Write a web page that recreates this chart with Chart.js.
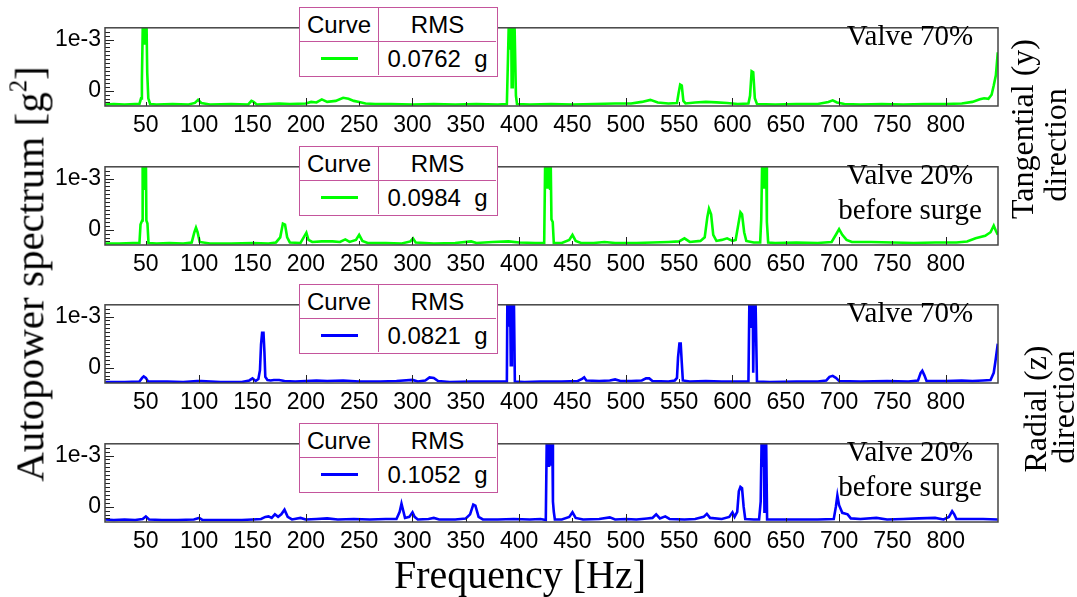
<!DOCTYPE html>
<html>
<head>
<meta charset="utf-8">
<script src="https://cdn.jsdelivr.net/npm/chart.js@4.4.1/dist/chart.umd.min.js"></script>
<style>
  html, body { margin:0; padding:0; background:#fff; }
  body { width:1077px; height:597px; position:relative; overflow:hidden; }
  canvas.panel { position:absolute; left:0; }
  .leg { position:absolute; left:299px; width:199px; height:70px; box-sizing:border-box;
         border:1.5px solid #c4559c; background:#fff; z-index:5;
         display:grid; grid-template-columns:79px 117px; grid-template-rows:34px 33px;
         font-family:"Liberation Sans", Arial, sans-serif; font-size:24px; color:#000; }
  .leg div { display:flex; align-items:center; justify-content:center; white-space:pre; }
  .leg .c1 { border-right:1.5px solid #c4559c; }
  .leg .r1 { border-bottom:1.5px solid #c4559c; }
  .leg .sw { width:37px; height:3.5px; }
  .note { position:absolute; z-index:4; font-family:"Liberation Serif","Times New Roman",serif;
          font-size:29px; line-height:35px; text-align:center; color:#000; transform:translate(-50%,0); white-space:nowrap; }
  .rot { position:absolute; z-index:4; font-family:"Liberation Serif","Times New Roman",serif; color:#000;
         text-align:center; white-space:nowrap; transform:translate(-50%,-50%) rotate(-90deg); }
  .xt { position:absolute; font-family:"Liberation Serif","Times New Roman",serif; font-size:40px; color:#000;
        transform:translate(-50%,-50%); white-space:nowrap; }
</style>
</head>
<body>
<script>
// ---------- DATA (amplitudes in units of 1e-3 g^2) ----------
const xTickValues = [50,100,150,200,250,300,350,400,450,500,550,600,650,700,750,800];
const yTickValues = [0, 1];
const yTickLabels = ['0', '1e-3'];
const rmsValues = ['0.0762', '0.0984', '0.0821', '0.1052'];
const panelNotes = [['Valve 70%'], ['Valve 20%', 'before surge'], ['Valve 70%'], ['Valve 20%', 'before surge']];
const seriesColors = ['#00ff00', '#00ff00', '#0000ff', '#0000ff'];

const freqTanV70 = [12,20,30,40,44,45.5,46.3,47.3,47.8,48.3,48.8,49.3,49.8,50.5,51.3,52.3,54,60,75,90,96,99,102,110,130,146,149,151,154,165,175,185,200,205,210,215,220,228,235,240,245,250,256,265,280,300,320,340,360,380,388.5,389.5,390.5,391,391.5,392,392.5,393,394,394.5,395,395.5,396,397,398,410,430,450,470,490,505,515,523,530,540,548,549.5,551,552.5,554,556,565,575,585,595,605,615,616.5,618,619.5,621,623,640,660,680,690,694,698,705,720,740,760,780,800,815,825,832,836,840,843,845,847,848.8];
const ampTanV70  = [-0.27,-0.26,-0.27,-0.26,-0.26,-0.15,0.22,1.5,0.9,1.5,0.9,1.5,0.9,1.5,0.35,-0.15,-0.26,-0.27,-0.26,-0.27,-0.24,-0.18,-0.24,-0.27,-0.26,-0.27,-0.2,-0.22,-0.27,-0.26,-0.25,-0.26,-0.25,-0.22,-0.23,-0.17,-0.22,-0.2,-0.14,-0.16,-0.2,-0.22,-0.25,-0.26,-0.26,-0.27,-0.26,-0.27,-0.26,-0.27,-0.26,0.6,1.5,0.8,1.5,0.8,1.5,0.07,0.07,1.5,0.8,1.5,1.5,-0.1,-0.26,-0.27,-0.26,-0.27,-0.26,-0.25,-0.25,-0.22,-0.18,-0.23,-0.25,-0.24,-0.05,0.12,0.1,-0.2,-0.25,-0.23,-0.22,-0.23,-0.24,-0.26,-0.25,-0.1,0.38,0.36,-0.15,-0.26,-0.27,-0.26,-0.26,-0.22,-0.19,-0.23,-0.26,-0.27,-0.26,-0.27,-0.26,-0.26,-0.25,-0.22,-0.17,-0.15,-0.16,-0.08,0.1,0.3,0.75];

const freqTanV20 = [12,25,38,44,45,46.5,47,47.5,48,48.5,49,49.5,50,50.5,51.5,52.5,60,72,85,93,95.5,97,98.5,100.5,110,130,150,165,172,176,178.5,180.5,182.5,185,195,198,200.5,202.5,206,215,225,232,237,241,247,250,253,258,275,290,298,300.5,303,320,340,355,360,375,390,400,415,423.5,424.5,425,425.5,426,426.5,427,427.5,428,428.5,429,429.5,430.3,431.5,432.5,440,447,450,453,458,470,480,490,510,525,540,550,555,560,570,574,576.5,578,580,582,585,590,595,600,603,605.5,607.5,609,611,613,620,626,627,628,628.5,629,629.5,630,630.5,631,631.5,632.3,633.5,640,660,680,693,697,700,703,707,712,730,750,770,790,810,820,828,837,842,845,847,848.8];
const ampTanV20  = [-0.27,-0.27,-0.26,-0.26,0.1,0.18,1.5,0.8,1.5,0.8,1.5,0.8,1.5,0.18,0.12,-0.26,-0.27,-0.26,-0.27,-0.25,-0.05,0.04,-0.05,-0.24,-0.27,-0.27,-0.26,-0.27,-0.25,-0.15,0.12,0.1,-0.15,-0.25,-0.26,-0.15,-0.06,-0.2,-0.24,-0.23,-0.23,-0.24,-0.19,-0.24,-0.2,-0.1,-0.22,-0.26,-0.26,-0.27,-0.23,-0.17,-0.25,-0.27,-0.26,-0.23,-0.26,-0.24,-0.23,-0.25,-0.26,-0.26,1.5,0.8,1.5,0.8,1.5,0.8,1.5,0.8,1.5,0.8,1.5,0.2,0.15,-0.26,-0.26,-0.2,-0.1,-0.22,-0.26,-0.26,-0.24,-0.26,-0.26,-0.25,-0.24,-0.23,-0.17,-0.24,-0.22,-0.15,0.25,0.41,0.3,-0.1,-0.22,-0.2,-0.17,-0.22,-0.2,0.1,0.34,0.3,-0.05,-0.22,-0.25,-0.25,0.2,1.5,0.8,1.5,0.8,1.5,0.8,1.5,1.5,0.15,-0.25,-0.26,-0.25,-0.26,-0.24,-0.1,0.01,-0.1,-0.2,-0.24,-0.24,-0.25,-0.26,-0.25,-0.25,-0.23,-0.17,-0.12,-0.05,0.08,-0.02,-0.1];

const freqRadV70 = [12,30,44,46.5,48,50,52,70,85,98,102,120,140,147,150,153,155.5,157,158,159,160.3,161.2,162,164,167,170,175,180,190,200,210,220,235,250,270,285,300,305,312,316,320,324,335,355,375,388.5,389,389.5,390,390.5,391,391.5,392.2,392.8,393.2,393.7,394.2,394.6,395,396,405,420,440,455,459,461,463,475,485,490,495,505,515,519,522,525,540,546,548,549,550.3,551.5,552.5,553.5,560,575,590,605,615,616,616.5,617,617.5,618,618.5,619,619.5,620,620.5,621,621.5,622,623,635,660,680,688,691,694,697,700,720,745,765,774,776.5,778,780,782,800,815,825,835,842,845,846.5,848.8];
const ampRadV70  = [-0.28,-0.28,-0.27,-0.2,-0.17,-0.2,-0.27,-0.27,-0.28,-0.26,-0.26,-0.28,-0.28,-0.25,-0.21,-0.26,-0.22,-0.05,0.45,0.68,0.68,0.3,-0.18,-0.24,-0.25,-0.24,-0.24,-0.26,-0.27,-0.26,-0.25,-0.26,-0.25,-0.27,-0.27,-0.26,-0.24,-0.27,-0.25,-0.19,-0.2,-0.26,-0.28,-0.27,-0.27,-0.27,1.5,0.8,1.5,0.8,1.5,1.5,0.05,0.05,1.5,0.8,1.5,0.8,1.5,-0.27,-0.28,-0.27,-0.27,-0.26,-0.22,-0.19,-0.25,-0.26,-0.25,-0.23,-0.26,-0.26,-0.25,-0.21,-0.21,-0.26,-0.27,-0.25,-0.2,0.2,0.47,0.47,0.1,-0.25,-0.27,-0.26,-0.27,-0.27,-0.27,1.5,0.8,1.5,0.8,1.5,0.8,1.5,-0.1,-0.1,1.5,0.8,1.5,1.5,-0.27,-0.28,-0.27,-0.27,-0.25,-0.18,-0.16,-0.2,-0.26,-0.27,-0.26,-0.27,-0.25,-0.1,-0.06,-0.15,-0.26,-0.26,-0.25,-0.26,-0.25,-0.24,-0.1,0.11,0.47];

const freqRadV20 = [12,20,30,40,47,50,53,65,80,95,100,103,120,140,150,158,162,165,168,171,174,177,180,183,187,195,200,210,220,230,245,260,275,285,288,289.7,291,293,297,300,302,305,315,320,325,340,350,354,357,359,362,366,380,395,410,420,425,426,426.5,427,427.5,428,428.5,429,429.5,430,430.5,431,431.7,432.5,433.5,440,447,450,453,460,475,485,490,500,510,520,525,528.5,532,537,541,555,565,573,576,579,590,597,600,602,604.5,606,607.5,609,610.5,612,620,625,626.5,627.5,628,628.5,629,629.5,630,630.5,631,631.5,632.5,640,660,680,695,697,698.4,700,703,708,711,720,735,745,760,775,790,798,803,806,808,810,820,835,848.8];
const ampRadV20  = [-0.25,-0.26,-0.25,-0.26,-0.24,-0.19,-0.25,-0.26,-0.26,-0.25,-0.22,-0.26,-0.26,-0.26,-0.25,-0.24,-0.2,-0.19,-0.22,-0.15,-0.2,-0.15,-0.06,-0.2,-0.25,-0.22,-0.25,-0.24,-0.23,-0.25,-0.24,-0.25,-0.24,-0.24,-0.1,0.06,-0.05,-0.22,-0.2,-0.11,-0.2,-0.25,-0.24,-0.22,-0.25,-0.25,-0.23,-0.15,0.04,0.02,-0.2,-0.25,-0.25,-0.24,-0.25,-0.24,-0.26,1.5,0.8,1.5,0.8,1.5,0.8,1.5,0.8,1.5,0.8,1.5,0.1,-0.1,-0.25,-0.25,-0.2,-0.11,-0.22,-0.25,-0.24,-0.21,-0.25,-0.24,-0.25,-0.23,-0.22,-0.15,-0.23,-0.19,-0.24,-0.25,-0.24,-0.2,-0.14,-0.22,-0.24,-0.2,-0.11,-0.2,-0.1,0.3,0.385,0.36,0.0,-0.24,-0.25,-0.25,0.1,1.5,0.8,1.5,0.8,1.5,-0.1,1.5,0.8,1.5,-0.25,-0.25,-0.25,-0.25,-0.24,0.0,0.22,0.03,-0.12,-0.15,-0.23,-0.24,-0.22,-0.25,-0.24,-0.23,-0.22,-0.25,-0.2,-0.09,-0.15,-0.24,-0.24,-0.24,-0.25];

const panelFreqs = [freqTanV70, freqTanV20, freqRadV70, freqRadV20];
const panelAmps  = [ampTanV70, ampTanV20, ampRadV70, ampRadV20];

// ---------- LAYOUT ----------
const panelTops = [20, 159, 297, 436];
const PLOT_H = 86, PAD_TOP = 10, XAXIS_H = 35, YAXIS_W = 105, RIGHT_PAD = 79;
const X_MIN = 11.7, X_MAX = 849, Y_MIN = -0.30, Y_MAX = 1.23;
const Y_MINOR_STEP = 1/13;

const frameTicks = {
  id: 'frameTicks',
  afterDatasetsDraw(chart) {
    const {ctx, chartArea: a, scales: {x, y}} = chart;
    ctx.save();
    ctx.strokeStyle = '#222';
    ctx.lineWidth = 1;
    ctx.beginPath();
    xTickValues.forEach(v => {
      const px = Math.round(x.getPixelForValue(v)) + 0.5;
      const len = (v % 100 === 0) ? 8 : 4;
      ctx.moveTo(px, a.bottom); ctx.lineTo(px, a.bottom - len);
    });
    for (let k = -3; k <= 15; k++) {
      const v = k * Y_MINOR_STEP;
      if (v < Y_MIN || v > Y_MAX) continue;
      const py = Math.round(y.getPixelForValue(v)) + 0.5;
      const len = (k === 0 || k === 13) ? 9 : 5;
      ctx.moveTo(a.left, py); ctx.lineTo(a.left + len, py);
    }
    ctx.stroke();
    ctx.lineWidth = 1.5;
    ctx.strokeStyle = '#444';
    ctx.strokeRect(a.left, a.top, a.right - a.left, a.bottom - a.top);
    ctx.restore();
  }
};

panelTops.forEach((top, i) => {
  const cv = document.createElement('canvas');
  cv.className = 'panel';
  cv.width = 1077; cv.height = PAD_TOP + PLOT_H + XAXIS_H;
  cv.style.top = (top - PAD_TOP) + 'px';
  cv.style.width = '1077px'; cv.style.height = cv.height + 'px';
  document.body.appendChild(cv);

  const pts = panelFreqs[i].map((f, j) => ({x: f, y: panelAmps[i][j]}));
  new Chart(cv, {
    type: 'line',
    data: { datasets: [{ data: pts, borderColor: seriesColors[i], borderWidth: 2.6,
                         pointRadius: 0, tension: 0, fill: false }] },
    options: {
      responsive: false, animation: false, devicePixelRatio: 1,
      layout: { padding: { top: PAD_TOP, left: 0, right: RIGHT_PAD, bottom: 0 } },
      plugins: { legend: { display: false }, tooltip: { enabled: false } },
      scales: {
        x: { type: 'linear', min: X_MIN, max: X_MAX,
             grid: { display: false, drawTicks: false }, border: { display: false },
             afterBuildTicks: s => { s.ticks = xTickValues.map(v => ({value: v})); },
             afterFit: s => { s.height = XAXIS_H; },
             ticks: { padding: 6, maxRotation: 0, autoSkip: false, color: '#000',
                      font: { family: '"Liberation Sans", Arial, sans-serif', size: 23 },
                      callback: v => String(v) } },
        y: { type: 'linear', min: Y_MIN, max: Y_MAX,
             grid: { display: false, drawTicks: false }, border: { display: false },
             afterBuildTicks: s => { s.ticks = yTickValues.map(v => ({value: v})); },
             afterFit: s => { s.width = YAXIS_W; },
             ticks: { padding: 4, color: '#000',
                      font: { family: '"Liberation Sans", Arial, sans-serif', size: 23 },
                      callback: v => yTickLabels[yTickValues.indexOf(v)] } }
      }
    },
    plugins: [frameTicks]
  });

  const leg = document.createElement('div');
  leg.className = 'leg';
  leg.style.top = (top - 13) + 'px';
  leg.innerHTML = '<div class="c1 r1">Curve</div><div class="r1">RMS</div>' +
    '<div class="c1"><span class="sw" style="background:' + seriesColors[i] + '"></span></div>' +
    '<div>' + rmsValues[i] + '  g</div>';
  document.body.appendChild(leg);

  const note = document.createElement('div');
  note.className = 'note';
  note.style.left = '910px';
  note.style.top = (top - 2) + 'px';
  note.innerHTML = panelNotes[i].join('<br>');
  document.body.appendChild(note);
});

function addRot(html, cx, cy, size) {
  const d = document.createElement('div');
  d.className = 'rot';
  d.style.left = cx + 'px'; d.style.top = cy + 'px';
  d.style.fontSize = size + 'px'; d.style.lineHeight = (size * 1.15) + 'px';
  d.innerHTML = html;
  document.body.appendChild(d);
}
addRot('Autopower spectrum [g<sup style="font-size:0.6em;vertical-align:0.7em;line-height:0">2</sup>]', 30, 274, 41);
addRot('Tangential (y)', 1022, 129, 32);
addRot('direction', 1055, 145, 32);
addRot('Radial (z)', 1035, 409, 32);
addRot('direction', 1063, 407, 32);

const xt = document.createElement('div');
xt.className = 'xt';
xt.style.left = '520px'; xt.style.top = '574px';
xt.textContent = 'Frequency [Hz]';
document.body.appendChild(xt);
</script>
</body>
</html>
